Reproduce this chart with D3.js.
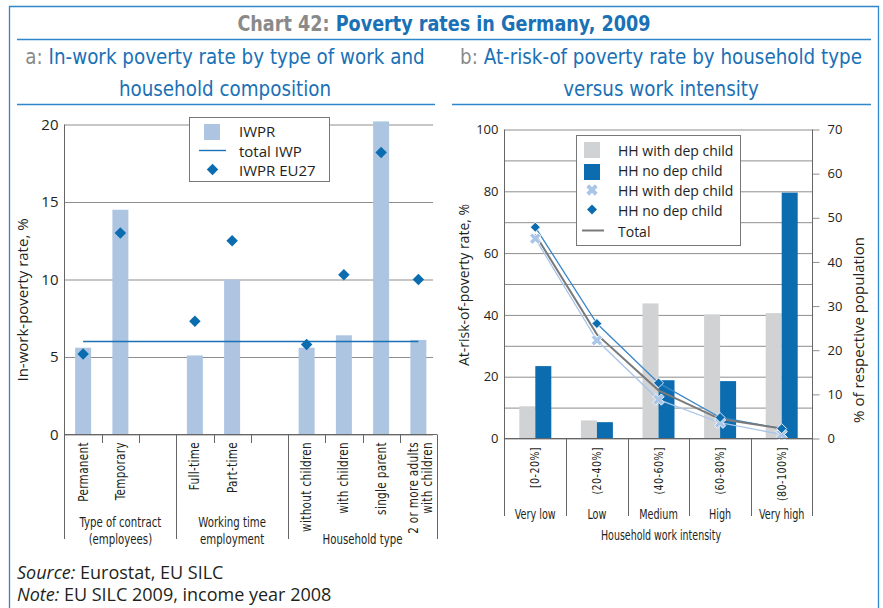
<!DOCTYPE html>
<html>
<head>
<meta charset="utf-8">
<script src="https://cdn.jsdelivr.net/npm/d3@7"></script>
<style>
  body { margin: 0; background: #fff; }
  svg { display: block; font-family: 'Open Sans', sans-serif; }
  .narrow { font-family: 'DejaVu Sans Condensed', 'DejaVu Sans', sans-serif; }
</style>
</head>
<body>
<div id="chart"></div>
<script>
// panel a: in-work poverty rate
const slotLabelsA = [['Permanent'], ['Temporary'], [], ['Full-time'], ['Part-time'], [],
  ['without children'], ['with children'], ['single parent'], ['2 or more adults', 'with children']]
const iwpr = [5.6, 14.5, null, 5.1, 10.0, null, 5.6, 6.4, 20.2, 6.1]
const iwprEU27 = [5.2, 13.0, null, 7.3, 12.5, null, 5.8, 10.3, 18.2, 10.0]
const totalIWP = 6.0
const groupsA = [
  { lines: ['Type of contract', '(employees)'], from: 0, to: 3 },
  { lines: ['Working time', 'employment'], from: 3, to: 6 },
  { lines: ['Household type'], from: 6, to: 10 }
]
const ticksA = [0, 5, 10, 15, 20]

// panel b: at-risk-of-poverty rate by work intensity
const intensity = ['[0-20%]', '(20-40%]', '(40-60%]', '(60-80%]', '(80-100%]']
const levels = ['Very low', 'Low', 'Medium', 'High', 'Very high']
const shareWithChild = [7.3, 4.1, 30.6, 28.1, 28.4]
const shareNoChild = [16.4, 3.7, 13.2, 13.0, 55.7]
const rateWithChild = [64.7, 31.8, 12.6, 5.1, 1.3]
const rateNoChild = [68.4, 37.2, 18.0, 6.8, 3.2]
const rateTotal = [66.0, 33.7, 15.6, 6.3, 3.2]

const blue = '#0b6db0'
const lightBlue = '#aec5e1'
const grey = '#d1d2d4'
const xBlue = '#a9c5e8'
const gridCol = '#8e8e8e'
const ink = '#231f20'

const svg = d3
  .select('#chart')
  .append('svg')
  .attr('width', 883)
  .attr('height', 608)

// frame
const frame = svg.append('g').attr('stroke', '#2f86c8').attr('fill', 'none')
frame.append('path').attr('d', 'M9.5,612V6.5H878.5V612').attr('stroke-width', 1.3)
frame.append('line').attr('x1', 17).attr('x2', 871).attr('y1', 39.5).attr('y2', 39.5).attr('stroke-width', 1.5)
frame.append('line').attr('x1', 17).attr('x2', 435).attr('y1', 104.5).attr('y2', 104.5).attr('stroke-width', 1.5)
frame.append('line').attr('x1', 452).attr('x2', 871).attr('y1', 104.5).attr('y2', 104.5).attr('stroke-width', 1.5)

// condensed text helper: squeeze glyphs horizontally (in the text's own direction)
const squeeze = (x, y, k, rot) => `translate(${x},${y})${rot ? ' rotate(' + rot + ')' : ''} scale(${k},1)`

// titles
const title = svg
  .append('text')
  .attr('class', 'narrow')
  .attr('transform', squeeze(444, 31, 0.89))
  .attr('text-anchor', 'middle')
  .style('font-size', '22px')
  .style('font-weight', 700)
title.append('tspan').attr('fill', '#8a8a8a').text('Chart 42: ')
title.append('tspan').attr('fill', '#1a71b6').text('Poverty rates in Germany, 2009')

function subtitle(cx, tag, lines) {
  lines.forEach((l, i) => {
    const t = svg
      .append('text')
      .attr('class', 'narrow')
      .attr('transform', squeeze(cx, 64 + i * 32, 0.97))
      .attr('text-anchor', 'middle')
      .style('font-size', '21px')
    if (i === 0) t.append('tspan').attr('fill', '#8a8a8a').text(tag + ' ')
    t.append('tspan').attr('fill', '#1a71b6').text(l)
  })
}
subtitle(225, 'a:', ['In-work poverty rate by type of work and', 'household composition'])
subtitle(661, 'b:', ['At-risk-of poverty rate by household type', 'versus work intensity'])

/* ---------- panel a ---------- */
const xA = d3.scaleBand().domain(d3.range(slotLabelsA.length)).range([64.5, 437])
const yA = d3.scaleLinear().domain([0, 20]).range([434.5, 124.5])
const cA = i => xA(i) + xA.bandwidth() / 2
const gA = svg.append('g')

gA.append('g')
  .attr('transform', 'translate(64.5,0)')
  .call(d3.axisLeft(yA).tickValues(ticksA).tickSize(-(433 - 64.5)).tickPadding(6))
  .call(g => g.select('.domain').remove())
  .call(g => g.selectAll('line').attr('stroke', gridCol))
  .call(g => g.selectAll('text').attr('fill', ink).style('font-size', '15px').style('font-family', 'Open Sans'))

const barsA = iwpr.map((v, i) => ({ v, i })).filter(d => d.v !== null)
gA.selectAll('.bar-a')
  .data(barsA)
  .enter()
  .append('rect')
  .attr('class', 'bar-a')
  .attr('x', d => cA(d.i) - 8)
  .attr('width', 16)
  .attr('y', d => yA(d.v))
  .attr('height', d => yA(0) - yA(d.v))
  .attr('fill', lightBlue)

// total IWP line
gA.append('line')
  .attr('x1', cA(0))
  .attr('x2', cA(slotLabelsA.length - 1))
  .attr('y1', yA(totalIWP))
  .attr('y2', yA(totalIWP))
  .attr('stroke', '#1a71b6')
  .attr('stroke-width', 1.4)

const diamond = d3.symbol().type(d3.symbolSquare)
gA.selectAll('.eu27')
  .data(iwprEU27.map((v, i) => ({ v, i })).filter(d => d.v !== null))
  .enter()
  .append('path')
  .attr('class', 'eu27')
  .attr('d', diamond.size(66))
  .attr('transform', d => `translate(${cA(d.i)},${yA(d.v)}) rotate(45)`)
  .attr('fill', blue)

// axes lines
gA.append('line').attr('x1', 64.5).attr('x2', 64.5).attr('y1', 124.5).attr('y2', 539).attr('stroke', '#666')
gA.append('line').attr('x1', 64.5).attr('x2', 437).attr('y1', 434.5).attr('y2', 434.5).attr('stroke', '#666')

// slot separators, long ones between groups
d3.range(1, slotLabelsA.length + 1).forEach(i => {
  const x = Math.round(xA(i - 1) + xA.bandwidth()) + 0.5
  const long = groupsA.some(g => g.to === i)
  gA.append('line')
    .attr('x1', x).attr('x2', x)
    .attr('y1', 434.5).attr('y2', long ? 539 : 443)
    .attr('stroke', '#666')
})

gA.selectAll('.cat-a')
  .data(slotLabelsA.map((lines, i) => ({ lines, i })))
  .enter()
  .append('text')
  .attr('class', 'cat-a narrow')
  .attr('transform', d => squeeze(cA(d.i), 442, 0.86, -90))
  .attr('text-anchor', 'end')
  .style('font-size', '13.5px')
  .style('letter-spacing', '0.4px')
  .attr('fill', ink)
  .selectAll('tspan')
  .data(d => d.lines.map((l, k) => ({ l, k, n: d.lines.length })))
  .enter()
  .append('tspan')
  .attr('x', 0)
  .attr('y', d => (d.n === 1 ? 4.5 : d.k * 14))
  .text(d => d.l)

gA.selectAll('.grp-a')
  .data(groupsA)
  .enter()
  .append('text')
  .attr('class', 'narrow')
  .attr('text-anchor', 'middle')
  .attr('fill', ink)
  .style('font-size', '14.5px')
  .attr('transform', d => squeeze((xA(d.from) + xA(d.to - 1) + xA.bandwidth()) / 2, 0, 0.78))
  .selectAll('tspan')
  .data(d => d.lines.map((l, k) => ({ l, k, n: d.lines.length })))
  .enter()
  .append('tspan')
  .attr('x', 0)
  .attr('y', d => (d.n === 1 ? 544 : 527 + d.k * 17))
  .text(d => d.l)

gA.append('text')
  .attr('transform', 'translate(28,300) rotate(-90)')
  .attr('text-anchor', 'middle')
  .attr('fill', ink)
  .style('font-size', '15px')
  .text('In-work-poverty rate, %')

// legend a
const legA = gA.append('g')
legA.append('rect').attr('x', 189.5).attr('y', 117.5).attr('width', 140).attr('height', 64)
  .attr('fill', '#fff').attr('stroke', '#777')
legA.append('rect').attr('x', 204).attr('y', 124).attr('width', 16).attr('height', 16).attr('fill', lightBlue)
legA.append('line').attr('x1', 199).attr('x2', 226).attr('y1', 150.5).attr('y2', 150.5)
  .attr('stroke', '#1a71b6').attr('stroke-width', 1.4)
legA.append('path').attr('d', diamond.size(66)).attr('transform', 'translate(212.5,169.5) rotate(45)').attr('fill', blue)
;['IWPR', 'total IWP', 'IWPR EU27'].forEach((t, i) => {
  legA.append('text').attr('x', 239).attr('y', 137 + i * 19.5).attr('fill', ink)
    .style('font-size', '15px').text(t)
})

/* ---------- panel b ---------- */
const xB = d3.scaleBand().domain(d3.range(intensity.length)).range([504.5, 812.5])
const yL = d3.scaleLinear().domain([0, 100]).range([438.5, 129.5])
const yR = d3.scaleLinear().domain([0, 70]).range([438.5, 129.5])
const cx = i => xB(i) + xB.bandwidth() / 2
const gB = svg.append('g')

gB.append('g')
  .attr('transform', 'translate(504.5,0)')
  .call(d3.axisLeft(yL).tickValues(d3.range(0, 101, 10)).tickFormat(d => (d % 20 === 0 ? d : ''))
    .tickSize(-(812.5 - 504.5)).tickPadding(6))
  .call(g => g.select('.domain').remove())
  .call(g => g.selectAll('line').attr('stroke', gridCol))
  .call(g => g.selectAll('text').attr('fill', ink).style('font-size', '13px').style('font-family', 'Open Sans'))

gB.append('g')
  .attr('transform', 'translate(812.5,0)')
  .call(d3.axisRight(yR).tickValues(d3.range(0, 71, 10)).tickSize(7).tickPadding(8))
  .call(g => g.select('.domain').remove())
  .call(g => g.selectAll('line').attr('stroke', gridCol))
  .call(g => g.selectAll('text').attr('fill', ink).style('font-size', '13px').style('font-family', 'Open Sans'))

gB.selectAll('.bar-wc')
  .data(shareWithChild)
  .enter()
  .append('rect')
  .attr('x', (d, i) => cx(i) - 16)
  .attr('width', 16)
  .attr('y', d => yR(d))
  .attr('height', d => yR(0) - yR(d))
  .attr('fill', grey)

gB.selectAll('.bar-nc')
  .data(shareNoChild)
  .enter()
  .append('rect')
  .attr('x', (d, i) => cx(i))
  .attr('width', 16)
  .attr('y', d => yR(d))
  .attr('height', d => yR(0) - yR(d))
  .attr('fill', blue)

const line = d3.line().x((d, i) => cx(i)).y(d => yL(d))
gB.append('path').attr('d', line(rateWithChild)).attr('fill', 'none').attr('stroke', xBlue).attr('stroke-width', 1.3)
gB.append('path').attr('d', line(rateNoChild)).attr('fill', 'none').attr('stroke', '#3a86c6').attr('stroke-width', 1.3)
gB.append('path').attr('d', line(rateTotal)).attr('fill', 'none').attr('stroke', '#7a7a7a').attr('stroke-width', 2)

const cross = d3.symbol().type(d3.symbolCross).size(80)
gB.selectAll('.m-wc')
  .data(rateWithChild)
  .enter()
  .append('path')
  .attr('d', cross)
  .attr('transform', (d, i) => `translate(${cx(i)},${yL(d)}) rotate(45)`)
  .attr('fill', xBlue)
  .attr('stroke', '#fff')
  .attr('stroke-width', 0.8)

gB.selectAll('.m-nc')
  .data(rateNoChild)
  .enter()
  .append('path')
  .attr('d', diamond.size(50))
  .attr('transform', (d, i) => `translate(${cx(i)},${yL(d)}) rotate(45)`)
  .attr('fill', blue)
  .attr('stroke', '#fff')
  .attr('stroke-width', 0.8)

// axis lines
gB.append('line').attr('x1', 504.5).attr('x2', 504.5).attr('y1', 129.5).attr('y2', 516).attr('stroke', '#666')
gB.append('line').attr('x1', 812.5).attr('x2', 812.5).attr('y1', 129.5).attr('y2', 516).attr('stroke', '#666')
gB.append('line').attr('x1', 504.5).attr('x2', 812.5).attr('y1', 438.5).attr('y2', 438.5).attr('stroke', '#666')
d3.range(1, intensity.length).forEach(i => {
  const x = Math.round(xB(i)) + 0.5
  gB.append('line').attr('x1', x).attr('x2', x).attr('y1', 438.5).attr('y2', 516).attr('stroke', '#666')
})

gB.selectAll('.int')
  .data(intensity)
  .enter()
  .append('text')
  .attr('class', 'narrow')
  .attr('transform', (d, i) => squeeze(cx(i) + 4, 447, 0.88, -90))
  .attr('text-anchor', 'end')
  .attr('fill', ink)
  .style('font-size', '12px')
  .style('letter-spacing', '0.5px')
  .text(d => d)

gB.selectAll('.lvl')
  .data(levels)
  .enter()
  .append('text')
  .attr('class', 'narrow')
  .attr('transform', (d, i) => squeeze(cx(i), 519, 0.74))
  .attr('text-anchor', 'middle')
  .attr('fill', ink)
  .style('font-size', '14.5px')
  .text(d => d)

gB.append('text')
  .attr('class', 'narrow')
  .attr('transform', squeeze(661, 540, 0.78))
  .attr('text-anchor', 'middle')
  .attr('fill', ink)
  .style('font-size', '13.5px')
  .text('Household work intensity')

gB.append('text')
  .attr('transform', 'translate(469,285) rotate(-90)')
  .attr('text-anchor', 'middle')
  .attr('fill', ink)
  .style('font-size', '14px')
  .text('At-risk-of-poverty rate, %')

gB.append('text')
  .attr('transform', 'translate(864,330) rotate(-90)')
  .attr('text-anchor', 'middle')
  .attr('fill', ink)
  .style('font-size', '15px')
  .text('% of respective population')

// legend b
const legB = gB.append('g')
legB.append('rect').attr('x', 576.5).attr('y', 135.5).attr('width', 164).attr('height', 110)
  .attr('fill', '#fff').attr('stroke', '#777')
legB.append('rect').attr('x', 584).attr('y', 142).attr('width', 16).attr('height', 16).attr('fill', grey)
legB.append('rect').attr('x', 584).attr('y', 164).attr('width', 16).attr('height', 16).attr('fill', blue)
legB.append('path').attr('d', cross).attr('transform', 'translate(592,190) rotate(45)').attr('fill', xBlue)
legB.append('path').attr('d', diamond.size(50)).attr('transform', 'translate(592,209.5) rotate(45)').attr('fill', blue)
legB.append('line').attr('x1', 582).attr('x2', 604).attr('y1', 230.5).attr('y2', 230.5)
  .attr('stroke', '#7a7a7a').attr('stroke-width', 2)
;['HH with dep child', 'HH no dep child', 'HH with dep child', 'HH no dep child', 'Total'].forEach((t, i) => {
  legB.append('text').attr('x', 618).attr('y', 155.5 + i * 20.3).attr('fill', ink)
    .style('font-size', '14px').text(t)
})

// notes
const note = (y, tag, rest) => {
  const t = svg.append('text').attr('x', 17).attr('y', y).attr('fill', ink).style('font-size', '18px')
  t.append('tspan').style('font-style', 'italic').text(tag)
  t.append('tspan').text(' ' + rest)
}
note(579, 'Source:', 'Eurostat, EU SILC')
note(601, 'Note:', 'EU SILC 2009, income year 2008')
</script>
</body>
</html>
